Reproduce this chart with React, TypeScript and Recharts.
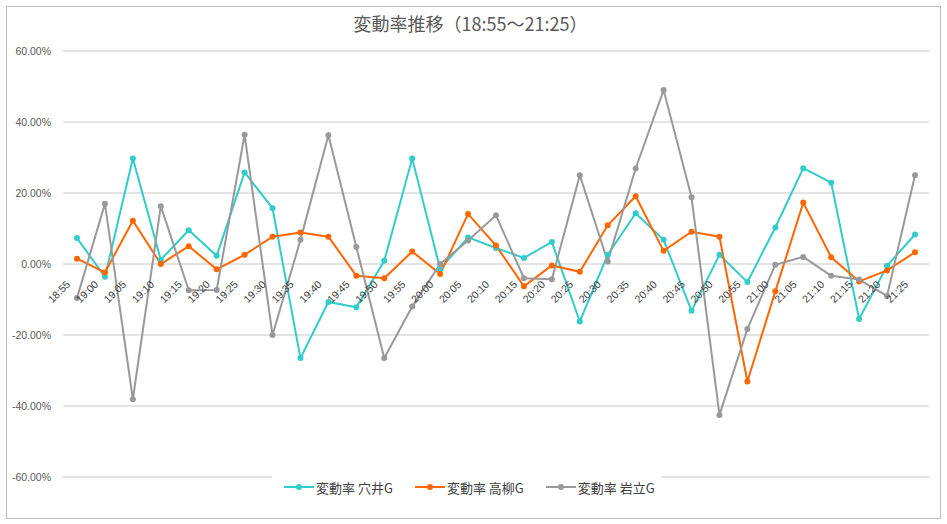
import { LineChart, Line, XAxis, YAxis, CartesianGrid } from "recharts";

const times = [
  "18:55", "19:00", "19:05", "19:10", "19:15", "19:20", "19:25", "19:30",
  "19:35", "19:40", "19:45", "19:50", "19:55", "20:00", "20:05", "20:10",
  "20:15", "20:20", "20:25", "20:30", "20:35", "20:40", "20:45", "20:50",
  "20:55", "21:00", "21:05", "21:10", "21:15", "21:20", "21:25",
];

// 変動率 (%)
const anai = [
  7.3, -3.6, 29.7, 1.2, 9.5, 2.3, 25.8, 15.7, -26.5, -10.7, -12.2, 0.9, 29.7,
  -1.4, 7.5, 4.5, 1.7, 6.2, -16.2, 2.6, 14.3, 6.8, -13.2, 2.6, -5.1, 10.3,
  27.0, 22.9, -15.5, -0.5, 8.3,
];
const takayanagi = [
  1.5, -2.4, 12.2, 0.0, 5.0, -1.5, 2.6, 7.7, 8.9, 7.7, -3.3, -4.0, 3.5, -2.8,
  14.1, 5.2, -6.3, -0.4, -2.2, 10.9, 19.1, 3.7, 9.1, 7.7, -33.1, -7.7, 17.3,
  1.9, -4.9, -1.8, 3.3,
];
const iwadate = [
  -9.6, 17.0, -38.1, 16.3, -7.4, -7.3, 36.4, -20.0, 6.8, 36.3, 4.8, -26.5,
  -12.0, 0.0, 6.6, 13.7, -4.0, -4.3, 25.0, 0.7, 26.9, 49.0, 18.8, -42.5,
  -18.3, -0.2, 2.0, -3.3, -4.4, -9.0, 25.0,
];

const yTicks = [-60, -40, -20, 0, 20, 40, 60];

const series = [
  { key: "anai", name: "変動率 穴井G", color: "#33CCCC" },
  { key: "takayanagi", name: "変動率 高柳G", color: "#FF6600" },
  { key: "iwadate", name: "変動率 岩立G", color: "#999999" },
];

const data = times.map((t, i) => ({
  time: t,
  anai: anai[i],
  takayanagi: takayanagi[i],
  iwadate: iwadate[i],
}));

const W = 947;
const H = 524;
const MARGIN = { top: 51, right: 18, bottom: 17, left: 0 };
const X_AXIS_H = 30;
const PLOT_H = H - MARGIN.top - MARGIN.bottom - X_AXIS_H;
const ZERO_Y = MARGIN.top + PLOT_H / 2;

const FONT = '"Noto Sans CJK JP", "Noto Sans", sans-serif';

function XTick({ x, payload }: { x?: number; payload?: { value: string } }) {
  return (
    <text
      x={0}
      y={0}
      transform={`translate(${(x ?? 0) - 6}, ${ZERO_Y + 21}) rotate(-45)`}
      textAnchor="end"
      fontSize={10.5}
      fill="#404040"
      fontFamily="Liberation Sans, Arial, sans-serif"
    >
      {payload?.value}
    </text>
  );
}

function LegendBox() {
  return (
    <div
      style={{
        position: "absolute",
        left: 272,
        top: 469,
        width: 389,
        height: 36,
        background: "#fff",
        display: "flex",
        alignItems: "center",
        paddingLeft: 12,
        boxSizing: "border-box",
        gap: 22,
        fontFamily: FONT,
        fontSize: 13,
        color: "#404040",
      }}
    >
      {series.map((s) => (
        <div key={s.key} style={{ display: "flex", alignItems: "center" }}>
          <svg width={30} height={10} style={{ marginRight: 2 }}>
            <line x1={0} y1={5} x2={30} y2={5} stroke={s.color} strokeWidth={2} />
            <circle cx={15} cy={5} r={3} fill={s.color} />
          </svg>
          <span style={{ whiteSpace: "nowrap" }}>{s.name}</span>
        </div>
      ))}
    </div>
  );
}

export default function App() {
  return (
    <div
      style={{
        position: "absolute",
        left: 0,
        top: 0,
        width: W,
        height: H,
        background: "#fff",
      }}
    >
      <LineChart width={W} height={H} data={data} margin={MARGIN}>
        <CartesianGrid vertical={false} stroke="#c8c8c8" />
        <XAxis
          dataKey="time"
          padding={{ left: 14, right: 14 }}
          axisLine={false}
          tickLine={false}
          interval={0}
          height={X_AXIS_H}
          tick={<XTick />}
        />
        <YAxis
          width={63}
          domain={[-60, 60]}
          ticks={yTicks}
          interval={0}
          axisLine={false}
          tickLine={false}
          tickMargin={6}
          tick={{ fontSize: 10.5, fill: "#595959", fontFamily: "Liberation Sans, Arial, sans-serif" }}
          tickFormatter={(v: number) => `${v.toFixed(2)}%`}
        />
        {series.map((s) => (
          <Line
            key={s.key}
            type="linear"
            dataKey={s.key}
            name={s.name}
            stroke={s.color}
            strokeWidth={2}
            dot={{ r: 3, fill: s.color, stroke: s.color, strokeWidth: 0 }}
            activeDot={false}
            isAnimationActive={false}
          />
        ))}
      </LineChart>
      <div
        style={{
          position: "absolute",
          left: 0,
          top: 14,
          width: 941,
          textAlign: "center",
          fontFamily: FONT,
          fontSize: 18,
          lineHeight: "18px",
          color: "#595959",
        }}
      >
        変動率推移（18:55～21:25）
      </div>
      <LegendBox />
      <div
        style={{
          position: "absolute",
          left: 6,
          top: 6,
          width: 935,
          height: 513,
          border: "1px solid #bfbfbf",
          boxSizing: "border-box",
          pointerEvents: "none",
        }}
      />
    </div>
  );
}
